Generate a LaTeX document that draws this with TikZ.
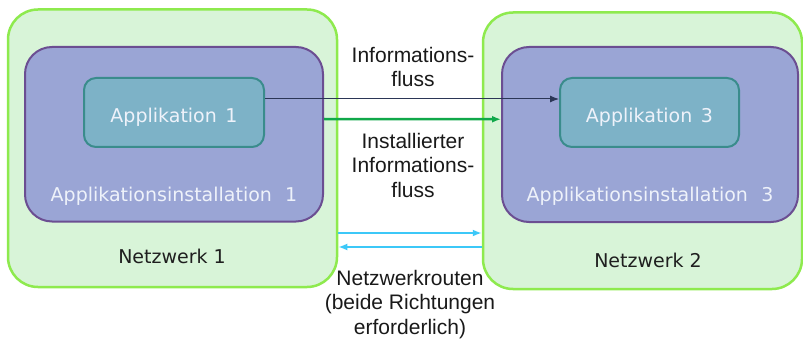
\documentclass[tikz,border=0pt]{standalone}
\usepackage{fontspec}
\setmainfont{Liberation Sans}
\newfontfamily\boxfont{DejaVu Sans}
\usetikzlibrary{positioning,arrows.meta}

\definecolor{netfill}{HTML}{D8F4D8}
\definecolor{netline}{HTML}{8EEA4E}
\definecolor{instfill}{HTML}{9AA5D5}
\definecolor{instline}{HTML}{6B4E92}
\definecolor{appfill}{HTML}{7DB2C7}
\definecolor{appline}{HTML}{3A8C8C}
\definecolor{flownavy}{HTML}{2B3656}
\definecolor{flowgreen}{HTML}{10A84A}
\definecolor{routecyan}{HTML}{3CC8F8}
\definecolor{boxtext}{HTML}{EEF2FA}

\begin{document}
\begin{tikzpicture}[
    x=1pt, y=-1pt,
    netbox/.style={draw=netline, line width=2.5pt, fill=netfill, rounded corners=30pt, inner sep=0pt},
    instbox/.style={draw=instline, line width=2pt, fill=instfill, rounded corners=27pt, inner sep=0pt},
    appbox/.style={draw=appline, line width=2pt, fill=appfill, rounded corners=12pt, inner sep=0pt,
        text height=25pt, text depth=4.5pt,
        text=boxtext, font=\boxfont\fontsize{19}{22}\selectfont},
    boxlabel/.style={anchor=base, inner sep=0pt, font=\boxfont\fontsize{19}{22}\selectfont},
    flowlabel/.style={anchor=north, inner sep=0pt, align=center, text=black!90,
        font=\fontsize{21}{24.5}\selectfont},
    arrow/.style={-{Latex[length=9pt,width=7pt]}}]
\useasboundingbox (0,0) rectangle (803,342);

% networks
\node[netbox, minimum width=329pt, minimum height=277.5pt] (net1) at (172.5,148.25) {};
\node[netbox, minimum width=319pt, minimum height=276.5pt] (net2) at (642.5,150.75) {};
\node[boxlabel, text=black!88] (net1txt) at (172,263) {Netzwerk 1};
\node[boxlabel, text=black!88] (net2txt) at (648,267) {Netzwerk 2};

% installations
\node[instbox, minimum width=298pt, minimum height=174.5pt] (inst1) at (174,134.25) {};
\node[instbox, minimum width=296pt, minimum height=175pt] (inst2) at (650,134.5) {};
\node[boxlabel, text=boxtext] (inst1txt) at (174,201) {Applikationsinstallation\hspace{0.7em}1};
\node[boxlabel, text=boxtext] (inst2txt) at (650,201) {Applikationsinstallation\hspace{0.7em}3};

% applications
\node[appbox, minimum width=180pt, minimum height=69pt] (app1) at (174,112.5) {Applikation\hspace{0.45em}1};
\node[appbox, minimum width=179pt, minimum height=69pt] (app3) at (649.5,112.5) {Applikation\hspace{0.45em}3};

% flows
\draw[arrow, flownavy, line width=1pt] ([yshift=13.5pt]app1.east) -- ([yshift=13.5pt]app3.west);
\draw[arrow, flowgreen, line width=2.5pt] ([yshift=15.25pt]inst1.east) -- ([yshift=15.25pt]inst2.west);
\draw[arrow, routecyan, line width=2.5pt] ([yshift=-84.75pt]net1.east) -- ([yshift=-84.75pt]net1.east -| net2.west);
\draw[arrow, routecyan, line width=2.5pt] ([yshift=-98.75pt]net1.east -| net2.west) -- ([yshift=-98.75pt]net1.east);

% labels
\node[flowlabel] (infotxt) at (413,46.7) {Informations-\\fluss};
\node[flowlabel] (insttxt) at (413,132.7) {Installierter\\Informations-\\fluss};
\node[flowlabel] (routetxt) at (410,269.7) {Netzwerkrouten\\(beide Richtungen\\erforderlich)};
\end{tikzpicture}
\end{document}
